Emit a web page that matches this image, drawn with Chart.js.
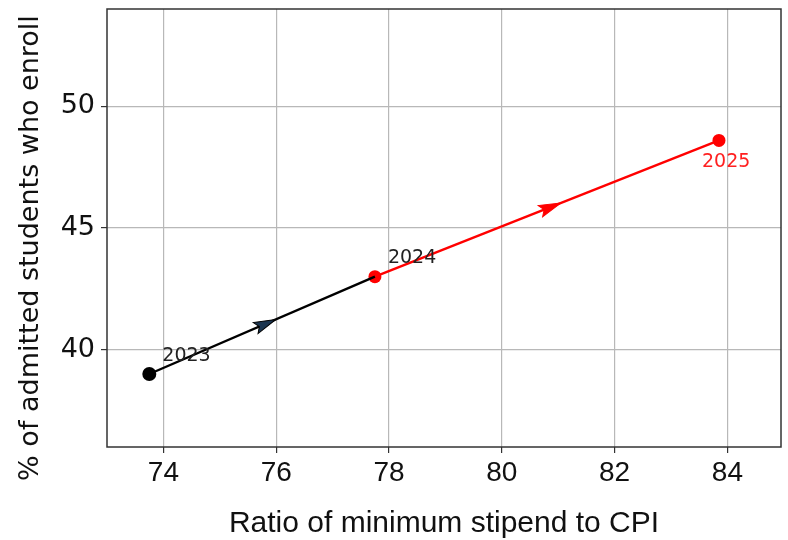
<!DOCTYPE html>
<html>
<head>
<meta charset="utf-8">
<script src="https://cdn.jsdelivr.net/npm/chart.js@4/dist/chart.umd.min.js"></script>
<style>
  html, body { margin: 0; padding: 0; background: #ffffff; }
  #wrap { width: 788px; height: 540px; position: relative; }
</style>
</head>
<body>
<div id="wrap"><canvas id="c" width="788" height="540"></canvas></div>
<script>
// ---- data ----
const years = ["2023", "2024", "2025"];
const stipendRatio = [73.75, 77.75, 83.85];
const enrollPct = [39.0, 43.0, 48.6];
const xTicks = [74, 76, 78, 80, 82, 84];
const yTicks = [40, 45, 50];
const xTitle = "Ratio of minimum stipend to CPI";
const yTitle = "% of admitted students who enroll";

const seriesBlack = [0, 1].map(i => ({ x: stipendRatio[i], y: enrollPct[i], label: years[i] }));
const seriesRed = [1, 2].map(i => ({ x: stipendRatio[i], y: enrollPct[i], label: years[i] }));

const labelOffsets = { "2023": [13, -18, "left", "#222222"], "2024": [13, -19, "left", "#222222"], "2025": [-17, 22, "left", "#ff2020"] };

const arrowPlugin = {
  id: 'arrows',
  afterDatasetsDraw(chart) {
    const ctx = chart.ctx;
    const xs = chart.scales.x, ys = chart.scales.y;
    chart.data.datasets.forEach(ds => {
      const pts = ds.data;
      for (let i = 0; i < pts.length - 1; i++) {
        const x1 = xs.getPixelForValue(pts[i].x), y1 = ys.getPixelForValue(pts[i].y);
        const x2 = xs.getPixelForValue(pts[i + 1].x), y2 = ys.getPixelForValue(pts[i + 1].y);
        const mx = (x1 + x2) / 2, my = (y1 + y2) / 2;
        const a = Math.atan2(y2 - y1, x2 - x1);
        ctx.save();
        ctx.translate(mx, my);
        ctx.rotate(a);
        ctx.beginPath();
        ctx.moveTo(15, 0);
        ctx.lineTo(-7, -6);
        ctx.lineTo(-3, 0);
        ctx.lineTo(-7, 6);
        ctx.closePath();
        ctx.fillStyle = ds.arrowFill;
        ctx.strokeStyle = ds.borderColor;
        ctx.lineWidth = 1;
        ctx.fill();
        ctx.stroke();
        ctx.restore();
      }
    });
  }
};

const labelPlugin = {
  id: 'ptlabels',
  afterDatasetsDraw(chart) {
    const ctx = chart.ctx;
    const xs = chart.scales.x, ys = chart.scales.y;
    ctx.save();
    ctx.font = '19px "DejaVu Sans"';
    ctx.textBaseline = 'middle';
    for (let i = 0; i < years.length; i++) {
      const o = labelOffsets[years[i]];
      const px = xs.getPixelForValue(stipendRatio[i]);
      const py = ys.getPixelForValue(enrollPct[i]);
      ctx.fillStyle = o[3];
      ctx.textAlign = o[2];
      ctx.fillText(years[i], px + o[0], py + o[1]);
    }
    ctx.restore();
  }
};

const frameAndTitlePlugin = {
  id: 'frame',
  afterDraw(chart) {
    const ctx = chart.ctx;
    const a = chart.chartArea;
    ctx.save();
    ctx.strokeStyle = '#333333';
    ctx.lineWidth = 1.5;
    ctx.strokeRect(a.left, a.top, a.right - a.left, a.bottom - a.top);
    ctx.translate(31, 248);
    ctx.rotate(-Math.PI / 2);
    ctx.font = '27px "DejaVu Sans"';
    ctx.fillStyle = '#111111';
    ctx.textAlign = 'center';
    ctx.textBaseline = 'middle';
    ctx.fillText(yTitle, 0, 0);
    ctx.restore();
  }
};

new Chart(document.getElementById('c'), {
  type: 'line',
  plugins: [arrowPlugin, labelPlugin, frameAndTitlePlugin],
  data: {
    datasets: [
      {
        data: seriesBlack,
        borderColor: '#000000',
        backgroundColor: '#000000',
        arrowFill: '#1b3550',
        borderWidth: 2.4,
        pointRadius: [7, 0],
        pointHoverRadius: 0,
        pointBorderWidth: 0,
        tension: 0
      },
      {
        data: seriesRed,
        borderColor: '#ff0000',
        backgroundColor: '#ff0000',
        arrowFill: '#ff0000',
        borderWidth: 2.4,
        pointRadius: 6.5,
        pointHoverRadius: 0,
        pointBorderWidth: 0,
        tension: 0
      }
    ]
  },
  options: {
    responsive: false,
    animation: false,
    events: [],
    layout: { padding: { top: 9, right: 7, left: 0, bottom: 0 } },
    plugins: { legend: { display: false }, tooltip: { enabled: false } },
    scales: {
      x: {
        type: 'linear',
        min: 73.0,
        max: 84.95,
        afterBuildTicks(s) { s.ticks = xTicks.map(v => ({ value: v })); },
        afterFit(s) { s.height = 93; s.paddingLeft = 0; s.paddingRight = 0; },
        grid: { color: '#b8b8b8', lineWidth: 1.2, drawTicks: true, tickLength: 6, tickColor: '#333333' },
        border: { display: false },
        ticks: { font: { family: '"Liberation Sans Narrow", "Liberation Sans"', size: 28 }, color: '#111111', padding: 3, maxRotation: 0 },
        title: { display: true, text: xTitle, font: { family: '"Liberation Sans"', size: 30 }, color: '#111111', padding: { top: 0, bottom: -2 } }
      },
      y: {
        type: 'linear',
        min: 36,
        max: 54,
        afterBuildTicks(s) { s.ticks = yTicks.map(v => ({ value: v })); },
        afterFit(s) { s.width = 107; s.paddingTop = 0; s.paddingBottom = 0; },
        grid: { color: '#b8b8b8', lineWidth: 1.2, drawTicks: true, tickLength: 6, tickColor: '#333333' },
        border: { display: false },
        ticks: { font: { family: '"DejaVu Sans"', size: 27 }, color: '#111111', padding: 6 }
      }
    }
  }
});
</script>
</body>
</html>
